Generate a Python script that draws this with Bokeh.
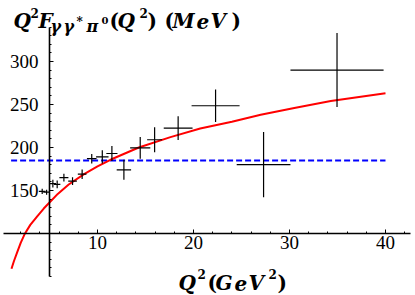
from bokeh.plotting import figure
from bokeh.models import FixedTicker, Label
from bokeh.embed import file_html
from bokeh.resources import INLINE

# ---- data ----
q2 = [4.24, 4.70, 5.35, 5.80, 6.50, 7.40, 8.40, 9.40, 10.5, 11.5, 12.75, 14.45, 15.95, 18.4, 22.3, 27.3, 34.95]
qff = [149, 148, 158, 157, 165, 161, 169, 187, 189, 193, 174, 199.5, 209, 222.5, 248.5, 180, 290]
q2_err = [0.35, 0.35, 0.33, 0.33, 0.47, 0.45, 0.45, 0.5, 0.65, 0.58, 0.75, 1.05, 0.78, 1.5, 2.5, 2.8, 4.85]
qff_err = [3, 3, 4.5, 4.5, 4.5, 4.5, 5.5, 5.5, 7.7, 8.7, 11.6, 12.6, 14.5, 13.7, 19, 38, 43]

curve_q2 = [1.04, 1.3, 1.63, 2.0, 2.4, 3.0, 3.72, 4.4, 5.0, 5.86, 7.0, 8.6, 10.0, 11.4, 14.3, 17.6, 20.7, 24.0, 27.0, 30.5, 34.3, 40.0]
curve_ff = [59, 68, 78, 89, 99, 110, 120, 129, 136, 146, 157, 169, 178, 186, 200, 212, 222, 230, 238, 246, 254, 263]

asym_q2 = [1.0, 40.0]
asym_ff = [185, 185]

x_major = [10, 20, 30, 40]
x_minor = list(range(2, 44, 2))
y_major = [150, 200, 250, 300]
y_minor = list(range(50, 350, 10))

X_RANGE = (-0.104, 43.125)
Y_RANGE = (27.9, 370.9)

p = figure(width=415, height=295, x_range=X_RANGE, y_range=Y_RANGE,
           output_backend="svg", toolbar_location=None, min_border=0)
p.outline_line_color = None
p.xgrid.visible = False
p.ygrid.visible = False
p.background_fill_color = "white"
p.border_fill_color = "white"

# axes crossing inside the frame (Mathematica style)
for ax in (p.xaxis[0], p.yaxis[0]):
    ax.axis_line_width = 1.6
    ax.axis_line_color = "black"
    ax.major_tick_in = 4
    ax.major_tick_out = 0
    ax.minor_tick_in = 2
    ax.minor_tick_out = 0
    ax.major_tick_line_color = "black"
    ax.minor_tick_line_color = "black"
    ax.major_label_text_font = "Liberation Serif"
    ax.major_label_text_font_size = "19px"
    ax.major_label_text_color = "black"

p.xaxis.fixed_location = 100
p.yaxis.fixed_location = 5
p.xaxis.ticker = FixedTicker(ticks=x_major, minor_ticks=x_minor)
p.yaxis.ticker = FixedTicker(ticks=y_major, minor_ticks=y_minor)
p.xaxis.major_label_standoff = 3
p.yaxis.major_label_standoff = 11
p.yaxis.bounds = (50, 340)
p.xaxis.bounds = (0.2, 42.6)

# curves
p.line(asym_q2, asym_ff, line_color="#0000ff", line_width=2, line_dash="6 3")
p.line(curve_q2, curve_ff, line_color="#ff0000", line_width=2)

# error crosses
hx0 = [a - b for a, b in zip(q2, q2_err)]
hx1 = [a + b for a, b in zip(q2, q2_err)]
vy0 = [a - b for a, b in zip(qff, qff_err)]
vy1 = [a + b for a, b in zip(qff, qff_err)]
p.segment(x0=hx0, y0=qff, x1=hx1, y1=qff, line_color="black", line_width=1.2)
p.segment(x0=q2, y0=vy0, x1=q2, y1=vy1, line_color="black", line_width=1.2)


# text placement helpers (window pixel -> data)
def xd(px):
    return (px - 1.0) / 9.6


def yd(py):
    return (319.0 - py) / 0.86


def lab(txt, px, py, size, style="bold italic", font="DejaVu Serif"):
    p.add_layout(Label(x=xd(px), y=yd(py), text=txt, text_font=font,
                       text_font_style=style, text_font_size=size,
                       text_color="black", text_align="left",
                       text_baseline="alphabetic"))


# title (y-axis label):  Q^2 F_{γγ*π^0}(Q^2) (MeV)
TB = 21
lab("Q", 13, TB, "20px")
lab("2", 30, TB - 8, "12px", style="bold")
lab("F", 38, TB, "20px")
lab("γ", 50, TB + 5, "16px")
lab("γ", 63, TB + 5, "16px")
lab("*", 76, TB + 1, "12px")
lab("π", 86, TB + 5, "16px")
lab("0", 101, TB - 1, "10px", style="bold")
lab("(", 109, TB, "20px", style="bold")
lab("Q", 117, TB, "20px")
lab("2", 139, TB - 8, "12px", style="bold")
lab(")", 147, TB, "20px", style="bold")
lab("(", 164, TB, "20px", style="bold")
lab("M", 172, TB, "20px")
lab("e", 196, TB, "20px")
lab("V", 210, TB, "20px")
lab(")", 231, TB, "20px", style="bold")

# x-axis label:  Q^2 (GeV^2)
XB = 283
lab("Q", 178, XB, "20px")
lab("2", 197, XB - 9, "12px", style="bold")
lab("(", 207, XB, "20px", style="bold")
lab("G", 215, XB, "20px")
lab("e", 234, XB, "20px")
lab("V", 248, XB, "20px")
lab("2", 268, XB - 9, "12px", style="bold")
lab(")", 277, XB, "20px", style="bold")

open("out.html", "w").write(file_html(p, INLINE))
